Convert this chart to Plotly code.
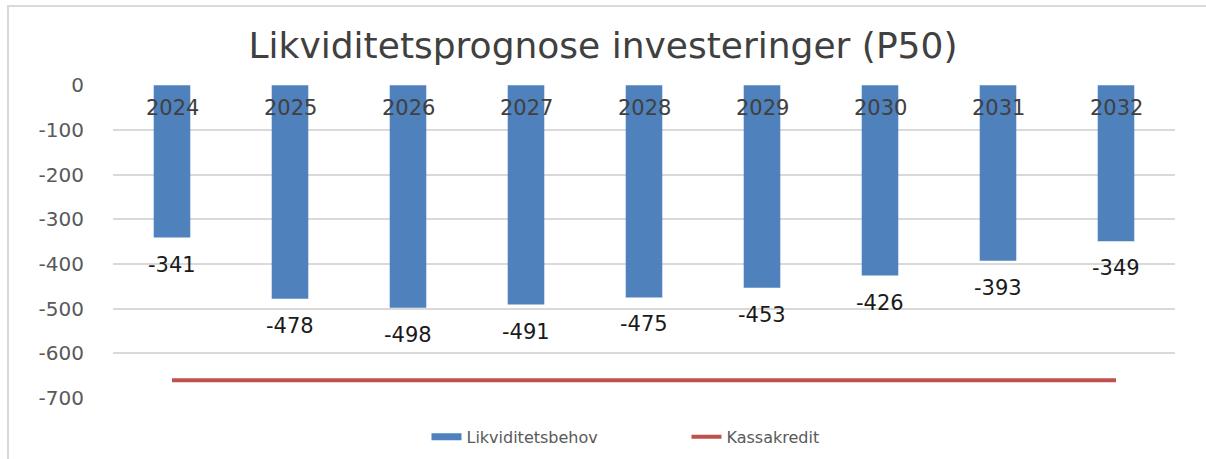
import plotly.graph_objects as go

years = ["2024", "2025", "2026", "2027", "2028", "2029", "2030", "2031", "2032"]
likviditetsbehov = [-341, -478, -498, -491, -475, -453, -426, -393, -349]
kassakredit = [-660] * len(years)
y_ticks = [0, -100, -200, -300, -400, -500, -600, -700]

FONT = "DejaVu Sans"
BLUE = "#4F81BD"
RED = "#C0504D"

fig = go.Figure()
fig.add_trace(go.Bar(
    x=years, y=likviditetsbehov, name="Likviditetsbehov",
    marker=dict(color=BLUE, line=dict(width=0)),
    showlegend=False,
))
fig.add_trace(go.Scatter(
    x=years, y=kassakredit, name="Kassakredit", mode="lines",
    line=dict(color=RED, width=4), showlegend=False,
))
# legend entries (bar drawn as a wide flat rectangle like the reference)
fig.add_trace(go.Scatter(x=[None], y=[None], name="Likviditetsbehov", mode="lines",
                         line=dict(color=BLUE, width=7)))
fig.add_trace(go.Scatter(x=[None], y=[None], name="Kassakredit", mode="lines",
                         line=dict(color=RED, width=4)))

# year labels just below the zero line (x given as category index)
for i, yr in enumerate(years):
    fig.add_annotation(x=i, y=0, text=yr, showarrow=False, yanchor="middle",
                       yshift=-23, font=dict(family=FONT, size=21, color="#404040"))
# data labels below each bar end
for i, v in enumerate(likviditetsbehov):
    fig.add_annotation(x=i, y=v, text=str(v), showarrow=False, yanchor="middle",
                       yshift=-27, font=dict(family=FONT, size=21, color="#1a1a1a"))

fig.update_layout(
    width=1206, height=459,
    margin=dict(l=113, r=31, t=85, b=61, autoexpand=False),
    paper_bgcolor="white", plot_bgcolor="white",
    title=dict(text="Likviditetsprognose investeringer (P50)", x=0.5, xanchor="center",
               y=0.902, yanchor="middle",
               font=dict(family=FONT, size=36, color="#404040")),
    bargap=0.69,
    showlegend=True,
    legend=dict(orientation="h", x=0.54, xanchor="center", y=-0.07, yanchor="top",
                font=dict(family=FONT, size=16, color="#595959"),
                entrywidth=215, tracegroupgap=0),
    font=dict(family=FONT),
)
fig.update_xaxes(
    type="category", categoryorder="array", categoryarray=years,
    range=[-0.5, len(years) - 0.5],
    showticklabels=False, automargin=False,
    showgrid=False, showline=False, ticks="",
)
fig.update_yaxes(
    range=[-700, 0.5], tickvals=y_ticks, ticktext=[str(v) for v in y_ticks],
    tickfont=dict(family=FONT, size=20, color="#595959"),
    showgrid=True, gridcolor="#D9D9D9", gridwidth=1.5, automargin=False,
    zeroline=False, showline=False, ticks="", ticklabelstandoff=28,
)
fig.add_shape(type="rect", xref="paper", yref="paper",
              x0=(8 - 113) / 1062, x1=(1240 - 113) / 1062,
              y0=(398 - 480) / 313, y1=(398 - 6) / 313,
              line=dict(color="#D9D9D9", width=2), layer="below")

fig.write_html("out.html", config={"displayModeBar": False},
               post_script="document.body.style.margin='0px';")
